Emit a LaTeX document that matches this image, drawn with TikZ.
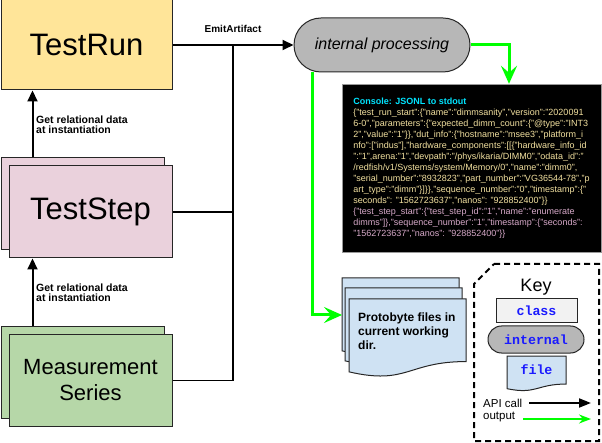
\documentclass[tikz,border=0pt]{standalone}
\usepackage{fontspec}
\setmainfont{Liberation Sans}
\setmonofont{Liberation Mono}
\usepackage{tikz}
\usetikzlibrary{arrows.meta, positioning, calc}
\definecolor{run-color}{HTML}{FFE599}
\definecolor{step-color}{HTML}{EAD1DC}
\definecolor{meas-color}{HTML}{B6D7A8}
\definecolor{file-color}{HTML}{CFE2F3}
\definecolor{proc-color}{HTML}{B7B7B7}
\definecolor{out-color}{HTML}{00FF00}
\definecolor{json-run}{HTML}{F3E1A0}
\definecolor{json-step}{HTML}{D7A9C9}
\definecolor{json-title}{HTML}{00E5FF}
\definecolor{key-blue}{HTML}{1A1AFF}
\tikzstyle{classbox} = [rectangle, draw=black!85, line width=1pt, minimum width=163pt, minimum height=92pt, inner sep=0pt, font=\fontsize{31}{34}\selectfont]
\tikzstyle{procbox} = [rectangle, draw=black!85, line width=1pt, fill=proc-color, inner sep=0pt]
\tikzstyle{apicall} = [draw=black, line width=2pt, -{Triangle[length=11pt,width=10pt]}]
\tikzstyle{bus} = [draw=black, line width=1.6pt]
\tikzstyle{outarrow}[3pt] = [draw=out-color, line width=#1, -{Stealth[length=18pt,width=16pt,inset=7pt]}]
\tikzstyle{lbl} = [font=\bfseries\fontsize{10.5}{10}\selectfont, align=left, inner sep=0pt]
\tikzstyle{keytext} = [font=\ttfamily\bfseries\fontsize{13.3}{15}\selectfont, text=key-blue]
\tikzstyle{docstyle} = [draw=black!85, line width=1pt, fill=file-color]
% sheet with a wavy bottom: top-left x, top-left y, width, height
\newcommand{\docsheet}[4]{\filldraw[docstyle] (#1,#2) -- ({#1+#3},#2) -- ({#1+#3},{#2+0.802*#4}) .. controls ({#1+0.5*#3},{#2+0.802*#4}) and ({#1+0.5*#3},{#2+1.1075*#4}) .. (#1,{#2+0.934*#4}) -- cycle;}
\begin{document}
\begin{tikzpicture}[x=1pt, y=-1pt]
    \useasboundingbox (0,0) rectangle (602,443);

    \node[classbox, fill=run-color, minimum width=171pt, minimum height=90pt] at (86.5, 45) (run) {TestRun};
    \node[classbox, fill=step-color] at (82.5, 204) (stepback) {};
    \node[classbox, fill=step-color] at (90.5, 212) (step) {TestStep};
    \node[classbox, fill=meas-color, minimum height=91pt] at (82.5, 372.5) (measback) {};
    \node[classbox, fill=meas-color, minimum height=91pt, align=center, font=\fontsize{22}{26}\selectfont] at (90.5, 380.5) (meas) {Measurement\\Series};

    \node[procbox, rounded corners=27pt, minimum width=176pt, minimum height=54pt, font=\itshape\fontsize{16}{18}\selectfont] at (382, 45) (proc) {internal processing};

    \node[rectangle, fill=black, draw=black!40, minimum width=259pt, minimum height=168pt, align=left, inner sep=0pt, font=\fontsize{9}{11}\selectfont] at (471.5, 168) (console) {%
        {\color{json-title}\bfseries Console: JSONL to stdout}\\
        \color{json-run}\{"test\_run\_start":\{"name":"dimmsanity","version":"2020091\\
        \color{json-run}6-0","parameters":\{"expected\_dimm\_count":\{"@type":"INT3\\
        \color{json-run}2","value":"1"\}\},"dut\_info":\{"hostname":"msee3","platform\_i\\
        \color{json-run}nfo":["indus"],"hardware\_components":[[\{"hardware\_info\_id\\
        \color{json-run}":"1",arena:"1","devpath":"/phys/ikaria/DIMM0","odata\_id":"\\
        \color{json-run}/redfish/v1/Systems/system/Memory/0","name":"dimm0",\\
        \color{json-run}"serial\_number":"8932823","part\_number":"VG36544-78","p\\
        \color{json-run}art\_type":"dimm"\}]\}\},"sequence\_number":"0","timestamp":\{"\\
        \color{json-run}seconds": "1562723637","nanos": "928852400"\}\}\\
        \color{json-step}\{"test\_step\_start":\{"test\_step\_id":"1","name":"enumerate\\
        \color{json-step}dimms"]\},"sequence\_number":"1","timestamp":\{"seconds":\\
        \color{json-step}"1562723637","nanos": "928852400"\}\}};

    % stack of protobyte files
    \docsheet{342}{278}{117}{78}
    \docsheet{345}{288}{117}{78}
    \docsheet{349}{299}{117}{78}
    \node[lbl, font=\bfseries\fontsize{12}{14}\selectfont, anchor=west] at (358, 331) (files) {Protobyte files in\\current working\\dir.};
    \coordinate (filesin) at (342, 315);

    \coordinate (busjoin) at (233, 45);
    \draw[apicall] (run.east) -- node[lbl, font=\bfseries\fontsize{10}{12}\selectfont, above=11pt, midway] {EmitArtifact} (proc.west);
    \draw[bus] (step.east) -| (busjoin);
    \draw[bus] (meas.east) -| (busjoin);
    \draw[apicall] ([xshift=32pt]stepback.north west) -- ([xshift=32pt]stepback.north west |- run.south);
    \draw[apicall] ([xshift=32pt]measback.north west) -- ([xshift=32pt]measback.north west |- step.south);
    \node[lbl, anchor=west] at (36, 125) (runinfo) {Get relational data\\at instantiation};
    \node[lbl, anchor=west] at (36, 293) (stepinfo) {Get relational data\\at instantiation};

    \draw[outarrow] (proc.east) -| ([xshift=37.5pt]console.north);
    \draw[outarrow] ([xshift=-70pt]proc.south) |- (filesin);

    % key
    \draw[line width=2pt, dash pattern=on 6pt off 4pt] (494, 264) -- (599, 264) -- (599, 441) -- (474, 441) -- (474, 284) -- cycle;
    \node[font=\fontsize{18}{20}\selectfont] at (536, 287) (keytitle) {Key};
    \node[rectangle, draw=black!85, line width=1pt, fill=black!5, minimum width=81pt, minimum height=24pt, keytext] at (536.5, 311) (keyclass) {class};
    \node[procbox, rounded corners=13.5pt, minimum width=96pt, minimum height=27pt, keytext] at (536, 339.5) (keyproc) {internal};
    \docsheet{507}{356}{59}{35}
    \node[keytext] at (536.5, 370) (keyfile) {file};
    \node[anchor=west, inner sep=0pt, font=\fontsize{11.5}{13}\selectfont] at (483, 403) (keyapi) {API call};
    \node[anchor=west, inner sep=0pt, font=\fontsize{11.5}{13}\selectfont] at (483, 417) (keyout) {output};
    \coordinate (apifrom) at (529, 403);
    \coordinate (apito) at (591, 403);
    \coordinate (outfrom) at (523, 419);
    \coordinate (outto) at (591, 419);
    \draw[apicall, -{Triangle[length=12pt,width=9pt]}] (apifrom) -- (apito);
    \draw[outarrow=2pt, -{Stealth[length=12pt,width=9pt,inset=4pt]}] (outfrom) -- (outto);
\end{tikzpicture}
\end{document}
